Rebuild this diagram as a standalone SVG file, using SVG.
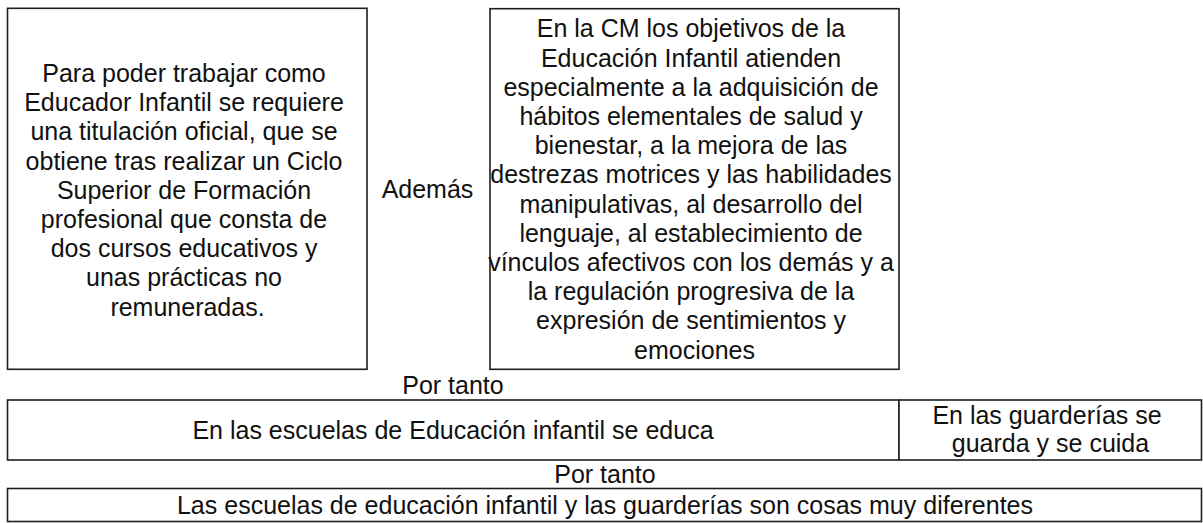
<svg xmlns="http://www.w3.org/2000/svg" width="1203" height="523" viewBox="0 0 1203 523">
<style>
  .box { fill: #ffffff; stroke: #1e1e1e; stroke-width: 1.6; }
  .t { font-family: "Liberation Sans", Arial, sans-serif; font-size: 25px; fill: #111111; text-anchor: middle; }
</style>
<rect x="0" y="0" width="1203" height="523" fill="#ffffff"/>
<g id="connectors"></g>
<g id="node-requisito">
  <rect class="box" x="7.5" y="8.3" width="359.5" height="361"/>
  <text class="t">
    <tspan x="187.5" y="82">Para poder trabajar como</tspan>
    <tspan x="187.5" y="111.2">Educador Infantil se requiere</tspan>
    <tspan x="187.5" y="140.4">una titulación oficial, que se</tspan>
    <tspan x="187.5" y="169.6">obtiene tras realizar un Ciclo</tspan>
    <tspan x="187.5" y="198.8">Superior de Formación</tspan>
    <tspan x="187.5" y="228">profesional que consta de</tspan>
    <tspan x="187.5" y="257.2">dos cursos educativos y</tspan>
    <tspan x="187.5" y="286.4">unas prácticas no</tspan>
    <tspan x="187.5" y="315.6">remuneradas.</tspan>
  </text>
</g>
<g id="label-ademas">
  <text class="t" x="427.5" y="198">Además</text>
</g>
<g id="node-objetivos">
  <rect class="box" x="490" y="8.7" width="409" height="360.6"/>
  <text class="t">
    <tspan x="694.5" y="37.3">En la CM los objetivos de la</tspan>
    <tspan x="694.5" y="66.5">Educación Infantil atienden</tspan>
    <tspan x="694.5" y="95.7">especialmente a la adquisición de</tspan>
    <tspan x="694.5" y="124.9">hábitos elementales de salud y</tspan>
    <tspan x="694.5" y="154.1">bienestar, a la mejora de las</tspan>
    <tspan x="694.5" y="183.3">destrezas motrices y las habilidades</tspan>
    <tspan x="694.5" y="212.5">manipulativas, al desarrollo del</tspan>
    <tspan x="694.5" y="241.7">lenguaje, al establecimiento de</tspan>
    <tspan x="694.5" y="270.9">vínculos afectivos con los demás y a</tspan>
    <tspan x="694.5" y="300.1">la regulación progresiva de la</tspan>
    <tspan x="694.5" y="329.3">expresión de sentimientos y</tspan>
    <tspan x="694.5" y="358.5">emociones</tspan>
  </text>
</g>
<g id="label-portanto-1">
  <text class="t" x="453" y="394.3">Por tanto</text>
</g>
<g id="node-escuelas">
  <rect class="box" x="7.5" y="400" width="891.5" height="60"/>
  <text class="t" x="453" y="438.5">En las escuelas de Educación infantil se educa</text>
</g>
<g id="node-guarderias">
  <rect class="box" x="899" y="400" width="302.5" height="60"/>
  <text class="t">
    <tspan x="1050.5" y="424">En las guarderías se</tspan>
    <tspan x="1050.5" y="451.5">guarda y se cuida</tspan>
  </text>
</g>
<g id="label-portanto-2">
  <text class="t" x="605" y="482.5">Por tanto</text>
</g>
<g id="node-conclusion">
  <rect class="box" x="7.5" y="488.5" width="1194" height="33"/>
  <text class="t" x="605" y="513.5">Las escuelas de educación infantil y las guarderías son cosas muy diferentes</text>
</g>
</svg>
